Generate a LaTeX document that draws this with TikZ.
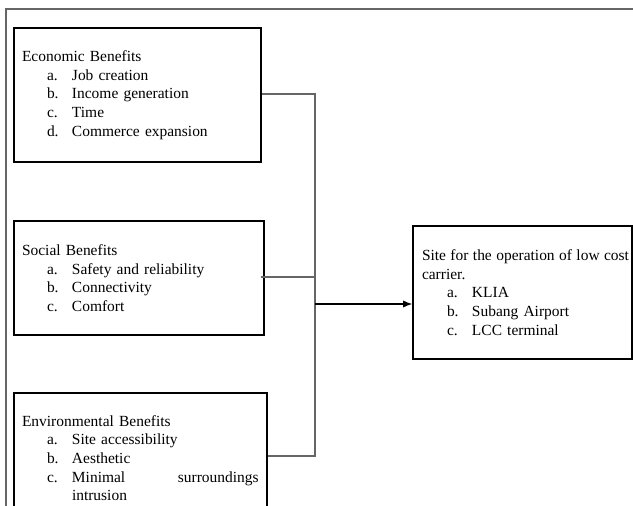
\documentclass[tikz,border=0pt]{standalone}
\usepackage{fontspec}
\setmainfont{Liberation Serif}[WordSpace=0.8]
\usetikzlibrary{arrows.meta}
\newcommand{\voce}[2]{\hspace*{18.75pt}\makebox[18.75pt][l]{#1}#2}
\newcommand{\giusta}[2]{\hbox to #1{\spaceskip=2.2pt plus 1fil #2}}
\tikzset{
  riquadro/.style={draw=black, line width=0.8pt, align=left, inner xsep=6pt, inner ysep=0pt,
    font=\fontsize{11.6}{14}\selectfont},
  linea/.style={draw=black!60, line width=1.1pt},
  freccia/.style={draw=black, line width=1.2pt, -{Latex[length=7pt, width=5.5pt]}},
}
\begin{document}
\begin{tikzpicture}[x=0.75pt, y=-0.75pt]
  \useasboundingbox (0,0) rectangle (633,506);
  \clip (0,0) rectangle (633,506);
  %cornice
  \draw[black!60, line width=1.5pt] (6,512) -- (6,9) -- (640,9);
  %riquadri
  \node[riquadro, text width=173.25pt, minimum height=100.5pt] (econ) at (137.5,95)
    {Economic Benefits\\ \voce{a.}{Job creation}\\ \voce{b.}{Income generation}\\
     \voce{c.}{Time}\\ \voce{d.}{Commerce expansion}};
  \node[riquadro, text width=175.5pt, minimum height=85.5pt] (social) at (139,278)
    {Social Benefits\\ \voce{a.}{Safety and reliability}\\ \voce{b.}{Connectivity}\\
     \voce{c.}{Comfort}};
  \node[riquadro, text width=177.75pt, minimum height=97.5pt] (env) at (140.5,458)
    {Environmental Benefits\\ \voce{a.}{Site accessibility}\\ \voce{b.}{Aesthetic}\\
     \voce{c.}{\giusta{140pt}{Minimal surroundings}}\\ \hspace*{37.5pt}intrusion};
  \node[riquadro, inner xsep=6.75pt, text width=150.75pt, minimum height=99.75pt] (site) at (522.5,292.5)
    {\giusta{155.25pt}{Site for the operation of low cost}\\ carrier.\\
     \voce{a.}{KLIA}\\ \voce{b.}{Subang Airport}\\ \voce{c.}{LCC terminal}};
  %collegamenti
  \coordinate (bustop) at (315,94);
  \coordinate (busbot) at (315,456);
  \coordinate (nodo) at (315,304);
  \draw[linea] (econ.east |- bustop) -- (bustop) -- (busbot) -- (env.east |- busbot);
  \draw[linea] ([xshift=-3pt]social.east |- 0,277) -- (bustop |- 0,277);
  \draw[freccia] (nodo) -- (nodo -| site.west);
\end{tikzpicture}
\end{document}
